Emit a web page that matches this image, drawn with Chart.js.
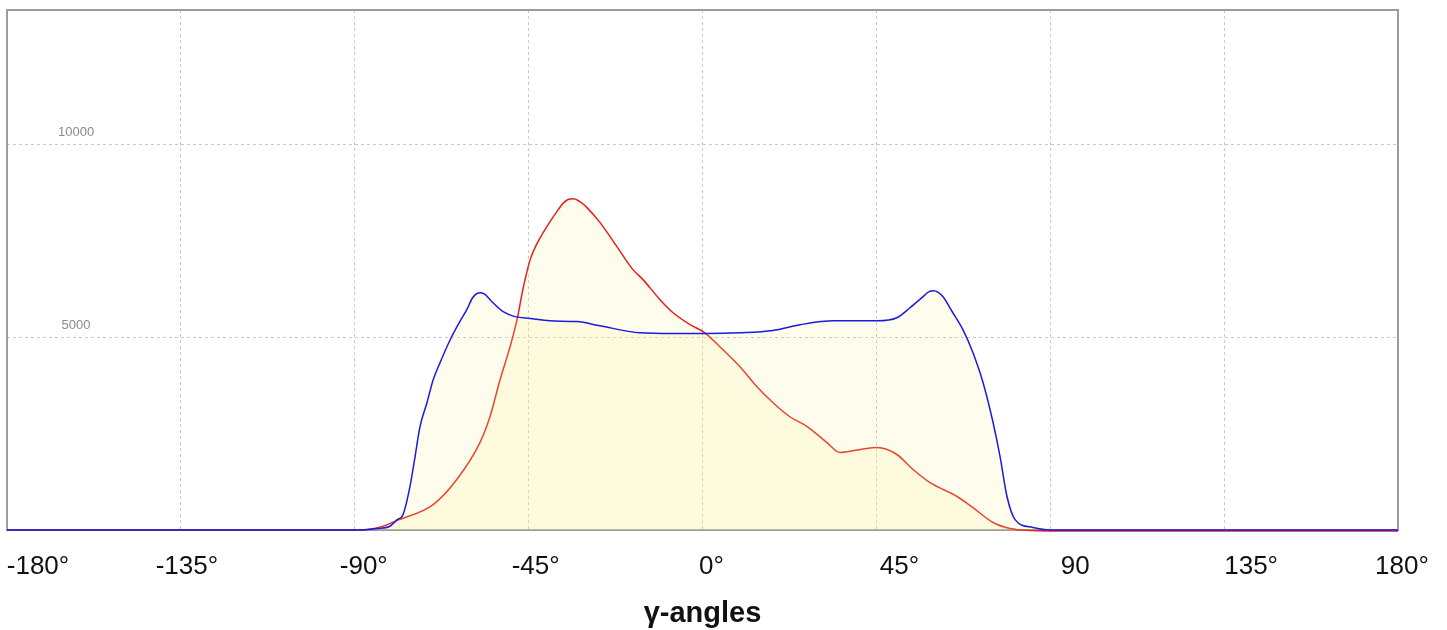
<!DOCTYPE html>
<html>
<head>
<meta charset="utf-8">
<script src="https://cdn.jsdelivr.net/npm/chart.js@4/dist/chart.umd.min.js"></script>
<style>
  html, body { margin: 0; padding: 0; background: #ffffff; }
  #wrap { width: 1447px; height: 630px; }
</style>
</head>
<body>
<div id="wrap"><canvas id="c" width="1447" height="630"></canvas></div>
<script>
// ---- data ----
const blueAngles = [-180, -90, -84, -81, -79, -77.5, -75.7, -74.4, -73.1, -71.3, -69.7, -67.9, -65.3, -62.8, -61, -59.5, -58.4, -57.4, -56.2, -55, -51.6, -48.5, -44.6, -39.5, -32.5, -26.5, -16.2, -7.6, 1.2, 9.7, 18.2, 25.3, 33.9, 45.2, 50.3, 53.7, 57.1, 58.6, 59.8, 61, 62.2, 64.8, 67.4, 70, 72.6, 75.2, 77, 78.8, 80.9, 85.5, 90, 180];
const blueCounts = [0, 0, 40, 90, 270, 400, 1130, 1900, 2690, 3310, 3900, 4350, 4940, 5410, 5720, 6030, 6140, 6160, 6110, 5980, 5670, 5540, 5490, 5430, 5410, 5300, 5120, 5100, 5100, 5120, 5180, 5330, 5430, 5430, 5510, 5770, 6060, 6190, 6210, 6170, 6060, 5640, 5200, 4600, 3830, 2790, 1910, 870, 270, 65, 0, 0];

const redAngles = [-180, -90, -84, -79, -69.7, -63.6, -57.6, -55, -52.4, -49.8, -48, -46.5, -44.6, -42.8, -41, -39.5, -37.6, -36.1, -34.8, -33.4, -31.8, -29.9, -26.5, -22.1, -18, -15.4, -11, -7.6, -3.2, 0.6, 5.3, 9.7, 14.1, 18.2, 22.6, 27, 32.2, 35.6, 40.8, 45.2, 50.3, 54.5, 58.9, 65.9, 70, 75.2, 79.6, 85.5, 90, 180];
const redCounts = [0, 0, 60, 250, 660, 1310, 2270, 2940, 3900, 4760, 5460, 6240, 7020, 7440, 7760, 8000, 8280, 8480, 8580, 8600, 8530, 8370, 7980, 7350, 6760, 6500, 5980, 5640, 5330, 5120, 4680, 4240, 3720, 3310, 2940, 2690, 2270, 2010, 2090, 2140, 1960, 1570, 1230, 870, 580, 195, 40, -15, -25, -25];

const xTickValues = [-180, -135, -90, -45, 0, 45, 90, 135, 180];
const xTickLabels = ['-180°', '-135°', '-90°', '-45°', '0°', '45°', '90', '135°', '180°'];
const yTickValues = [5000, 10000];
const xTitle = 'γ-angles';

// ---- presentation ----
const xLabelShift = [31, 6, 9, 7, 9, 23, 25, 27, 4];
const fillColor = 'rgba(248, 238, 150, 0.18)';

function toPoints(xs, ys) { return xs.map((x, i) => ({ x: x, y: ys[i] })); }

const labelShiftPlugin = {
  id: 'labelShift',
  beforeDraw(chart) {
    const s = chart.scales.x;
    const items = s.getLabelItems();
    items.forEach((it, i) => {
      if (!it._shifted) {
        it.options.translation[0] += (xLabelShift[i] || 0);
        it._shifted = true;
      }
    });
  }
};

const frameBorderPlugin = {
  id: 'frameBorder',
  beforeDatasetsDraw(chart) {
    const a = chart.chartArea;
    const ctx = chart.ctx;
    ctx.save();
    ctx.strokeStyle = '#9c9c9c';
    ctx.lineWidth = 2;
    ctx.strokeRect(a.left, a.top, a.right - a.left, a.bottom - a.top);
    ctx.restore();
  }
};

const gridColor = '#c9c9c9';

new Chart(document.getElementById('c'), {
  type: 'line',
  data: {
    datasets: [
      {
        label: 'blue',
        data: toPoints(blueAngles, blueCounts),
        borderColor: '#1a1ae0',
        backgroundColor: fillColor,
        borderWidth: 1.5,
        pointRadius: 0,
        fill: 'origin',
        cubicInterpolationMode: 'monotone',
        clip: false
      },
      {
        label: 'red',
        data: toPoints(redAngles, redCounts),
        borderColor: '#e3221c',
        backgroundColor: fillColor,
        borderWidth: 1.5,
        pointRadius: 0,
        fill: 'origin',
        cubicInterpolationMode: 'monotone',
        clip: false
      }
    ]
  },
  options: {
    responsive: false,
    animation: false,
    devicePixelRatio: 1,
    layout: { padding: { left: 7, right: 49, top: 10, bottom: 0 } },
    plugins: {
      legend: { display: false },
      tooltip: { enabled: false },
      title: { display: false }
    },
    scales: {
      x: {
        type: 'linear',
        min: -180,
        max: 180,
        afterBuildTicks: (s) => { s.ticks = xTickValues.map(v => ({ value: v })); },
        afterFit: (s) => { s.paddingLeft = 0; s.paddingRight = 0; s.height = 100; },
        grid: { color: gridColor, lineWidth: 1, drawTicks: false, drawOnChartArea: true },
        border: { display: false, dash: [3, 3] },
        ticks: {
          autoSkip: false,
          maxRotation: 0,
          padding: 21,
          color: '#111111',
          font: { family: "'Liberation Sans', Arial, sans-serif", size: 26 },
          callback: (v, i) => xTickLabels[i]
        },
        title: {
          display: true,
          text: xTitle,
          color: '#111111',
          font: { family: "'Liberation Sans', Arial, sans-serif", size: 29, weight: 'bold' },
          padding: { top: 0, bottom: -1 }
        }
      },
      y: {
        type: 'linear',
        min: 0,
        max: 13500,
        afterBuildTicks: (s) => { s.ticks = yTickValues.map(v => ({ value: v })); },
        afterFit: (s) => { s.width = 0; s.paddingTop = 0; s.paddingBottom = 0; },
        grid: { color: gridColor, lineWidth: 1, drawTicks: false },
        border: { display: false, dash: [3, 3] },
        ticks: {
          mirror: true,
          crossAlign: 'center',
          padding: 51,
          labelOffset: -12,
          color: '#8a8a8a',
          font: { family: "'Liberation Sans', Arial, sans-serif", size: 13 },
          callback: (v) => String(v)
        }
      }
    }
  },
  plugins: [labelShiftPlugin, frameBorderPlugin]
});
</script>
</body>
</html>
